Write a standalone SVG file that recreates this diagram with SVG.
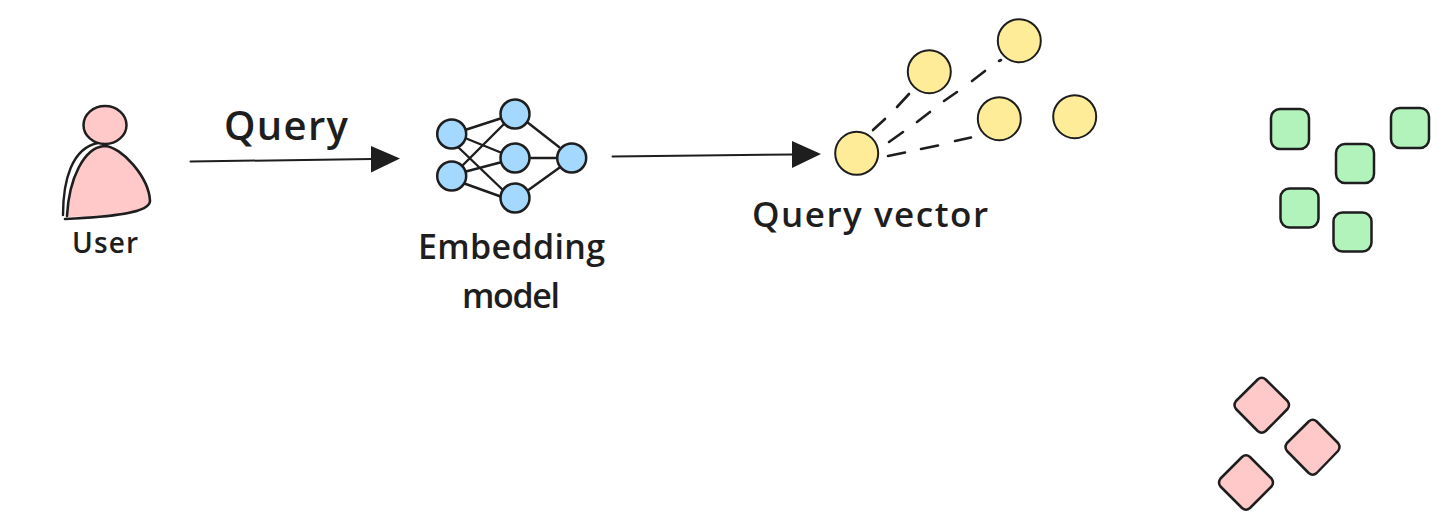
<svg xmlns="http://www.w3.org/2000/svg" width="1449" height="531" viewBox="0 0 1449 531">
<style>
.ln{fill:none;stroke:#1e1e1e;stroke-linecap:round;stroke-linejoin:round}
.o{stroke:#1e1e1e;stroke-width:2.500;stroke-linejoin:round}
.o2{stroke:#1e1e1e;stroke-width:2;stroke-linejoin:round}
.p{fill:#ffc9c9}.b{fill:#a5d8ff}.y{fill:#ffec99}.g{fill:#b2f2bb}
.t{font-family:"Open Sans","Liberation Sans",sans-serif;fill:#1e1e1e;font-weight:600;text-anchor:start}
.h{fill:#1e1e1e}
</style>
<rect width="1449" height="531" fill="#ffffff"/>
<g id="connectors">
<path class="ln" stroke-width="2" d="M190.500 161.500 L372 159"/>
<polygon class="h" points="371,146 371,172.500 400,158.500"/>
<path class="ln" stroke-width="2" d="M612.500 156.500 L793 154.500"/>
<polygon class="h" points="792,141 792,168 821,154"/>
<g class="ln" stroke-width="2.600">
<path d="M873 130 L885 119M897 107 L909 94"/>
<path d="M889 142 L903 132M917 122 L930 112M944 101 L957 92M972 81 L985 71M999 61 L1001 60"/>
<path d="M888 156 L905 152.500M921 149 L938 145.500M955 141 L971 137.500"/>
</g>
<g class="ln" stroke-width="2.400">
<path d="M465 130 L502 118M465 138 L502 153M458 147 L505 192M462 166 L504 124M464 172 L502 162M463 183 L502 197"/>
<path d="M527 122 L559 147M528 158 L558 158M527 191 L559 168"/>
</g>
</g>
<g id="user">
<path class="p" d="M68 215 C70 178 82 146 103 145 C120 145 150 180 150 200 C149 212 110 216 68 217Z"/>
<path class="ln" stroke-width="2.400" d="M63 215 C63 180 72 148 98 143"/>
<path class="ln" stroke-width="2.600" d="M67 216 C69 178 84 148 104 146 C122 146 149 178 150 201 C150 213 110 217 65 219"/>
<ellipse class="p o" cx="105" cy="125" rx="21.500" ry="19"/>
<text class="t" x="72" y="253" font-size="28" textLength="66" lengthAdjust="spacing" font-weight="500">User</text>
</g>
<g id="query-label"><text class="t" x="224" y="140" font-size="40" textLength="124" lengthAdjust="spacing" font-weight="700">Query</text></g>
<g id="embedding-model">
<circle class="b o" cx="451.700" cy="134" r="14.500"/>
<circle class="b o" cx="451.700" cy="176" r="14.500"/>
<circle class="b o" cx="515" cy="114" r="14.500"/>
<circle class="b o" cx="515" cy="158" r="14.500"/>
<circle class="b o" cx="515" cy="198" r="14.500"/>
<circle class="b o" cx="571.700" cy="158" r="14.500"/>
<text class="t" x="418" y="259" font-size="34" textLength="187" lengthAdjust="spacing">Embedding</text>
<text class="t" x="462" y="308" font-size="34" textLength="98" lengthAdjust="spacing">model</text>
</g>
<g id="query-vector">
<circle class="y o2" cx="856.700" cy="153.300" r="21.500"/>
<circle class="y o2" cx="929.300" cy="71.700" r="21.500"/>
<circle class="y o2" cx="1019.300" cy="40.700" r="21.500"/>
<circle class="y o2" cx="999.300" cy="118.700" r="21.500"/>
<circle class="y o2" cx="1074.700" cy="116.700" r="21.500"/>
<text class="t" x="752" y="227" font-size="35" textLength="236" lengthAdjust="spacing">Query vector</text>
</g>
<g id="green-squares">
<rect class="g o" x="1271" y="109" width="38" height="40" rx="9"/>
<rect class="g o" x="1391" y="108" width="38" height="40" rx="9"/>
<rect class="g o" x="1336" y="144" width="38" height="39" rx="9"/>
<rect class="g o" x="1280.500" y="188.500" width="38" height="39" rx="9"/>
<rect class="g o" x="1333.500" y="212.500" width="38" height="39" rx="9"/>
</g>
<g id="red-diamonds">
<path class="p o" d="M1257.700 379.500 Q1261.700 376 1265.700 379.500 L1287.500 401 Q1290.500 405 1287.500 409 L1265.700 431 Q1261.700 434.500 1257.700 431 L1236 409 Q1233 405 1236 401Z"/>
<path class="p o" d="M1308.700 421.500 Q1312.700 418 1316.700 421.500 L1338 443 Q1341 447 1338 451 L1316.700 473 Q1312.700 476.500 1308.700 473 L1287 451 Q1284 447 1287 443Z"/>
<path class="p o" d="M1242 457 Q1246 453.500 1250 457 L1271.500 478.500 Q1274.500 482.500 1271.500 486.500 L1250 508 Q1246 511.500 1242 508 L1220.500 486.500 Q1217.500 482.500 1220.500 478.500Z"/>
</g>
</svg>
